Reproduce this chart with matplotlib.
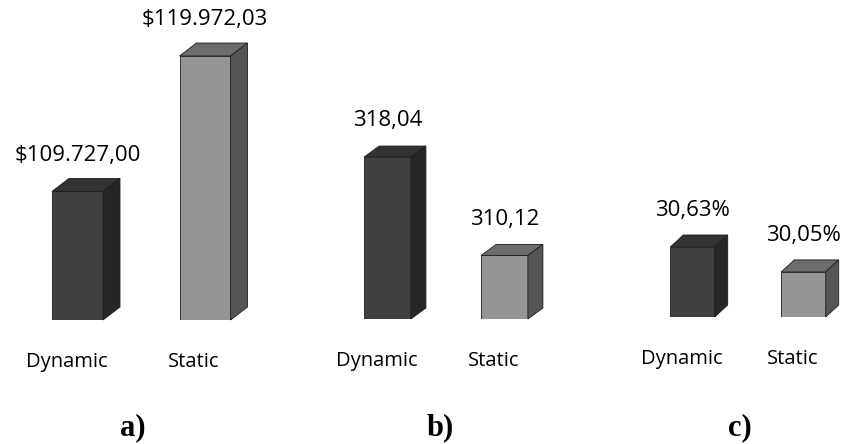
import matplotlib
matplotlib.use("Agg")
import matplotlib.pyplot as plt
from matplotlib.patches import Polygon
from matplotlib.transforms import IdentityTransform, ScaledTranslation

categories = ["Dynamic", "Static"]
cost_values = [109727.00, 119972.03]
time_values = [318.04, 310.12]
rate_values = [30.63, 30.05]
panel_tags = ["a)", "b)", "c)"]

W, H = 845, 444
plt.rcParams["font.family"] = ["Open Sans", "DejaVu Sans"]

fig = plt.figure(figsize=(W / 100, H / 100), dpi=100)

FRONT = ["#404040", "#959595"]
TOP = ["#333333", "#6c6c6c"]
SIDE = ["#262626", "#555555"]
EDGE = "#1e1e1e"


def money(v):
    s = f"{v:,.2f}"
    return "$" + s.replace(",", "_").replace(".", ",").replace("_", ".")


def plain(v):
    return f"{v:.2f}".replace(".", ",")


def pct(v):
    return plain(v) + "%"


def px_axes(left, bottom, width, height):
    # pixel rectangle (top-left origin for bottom) -> figure fraction
    return fig.add_axes([left / W, (H - bottom) / H, width / W, height / H])


# layout of each panel in pixels: left, baseline, width, height, ylim, xlim, depth
panels = [
    (cost_values, money, 13.75, 320, 255, 290.8, (100000, 122000), (-0.5, 1.5), (17, 13), 133),
    (time_values, plain, 329, 319, 234, 186.3, (305, 320), (-0.5, 1.5), (15, 11), 440),
    (rate_values, pct, 637, 317, 199.8, 85.9, (29, 31), (-0.5, 1.3), (13, 12), 740),
]

for (vals, fmt, left, base, width, height, ylim, xlim, depth, tagx), tag in zip(panels, panel_tags):
    ax = px_axes(left, base, width, height)
    ax.set_xlim(*xlim)
    ax.set_ylim(*ylim)
    ymin = ylim[0]
    bars = ax.bar(range(len(vals)), [v - ymin for v in vals], bottom=ymin, width=0.4,
                  color=FRONT, edgecolor=EDGE, linewidth=0.6, zorder=3)
    dx, dy = depth
    for i, (bar, v) in enumerate(zip(bars, vals)):
        x0, y0 = ax.transData.transform((bar.get_x(), ymin))
        x1, y1 = ax.transData.transform((bar.get_x() + bar.get_width(), v))
        top = [(x0, y1), (x1, y1), (x1 + dx, y1 + dy), (x0 + dx, y1 + dy)]
        side = [(x1, y0), (x1 + dx, y0 + dy), (x1 + dx, y1 + dy), (x1, y1)]
        for pts, c in ((top, TOP[i]), (side, SIDE[i])):
            fig.add_artist(Polygon(pts, closed=True, facecolor=c, edgecolor=EDGE,
                                   linewidth=0.6, transform=IdentityTransform()))
        ax.annotate(fmt(v), xy=(i, v), xytext=(0, 26), textcoords="offset points",
                    ha="center", va="center", fontsize=16, color="black",
                    annotation_clip=False)

    ax.set_xticks(range(len(categories)))
    ax.set_xticklabels(categories, fontsize=14.5, color="black")
    ax.tick_params(axis="x", length=0, pad=23)
    shift = ScaledTranslation(-8 / 72, 0, fig.dpi_scale_trans)
    for lab in ax.get_xticklabels():
        lab.set_transform(lab.get_transform() + shift)
    ax.set_yticks([])
    for s in ax.spines.values():
        s.set_visible(False)

    fig.text(tagx / W, (H - 428) / H, tag, ha="center", va="center",
             fontsize=22, fontweight="bold", family="Liberation Serif", color="black")

fig.savefig("out.png", dpi=100, facecolor="white")
